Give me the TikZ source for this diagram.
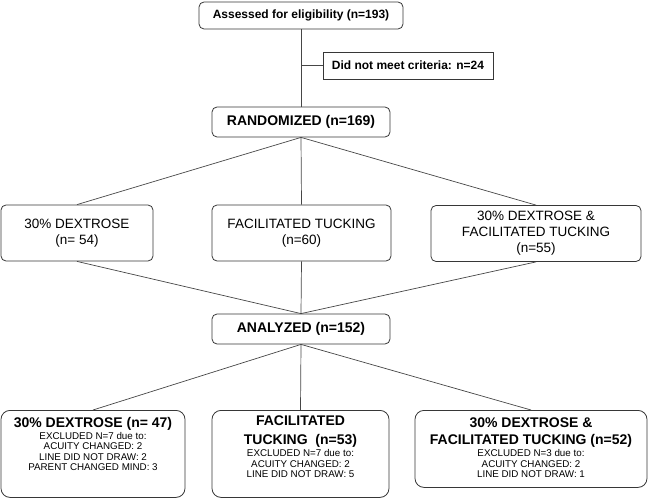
\documentclass[tikz,border=0pt]{standalone}
\usepackage{fontspec}
\setmainfont{Liberation Sans}
\usepackage{xcolor}
\usetikzlibrary{positioning}
\definecolor{boxline}{RGB}{55,55,55}
\definecolor{flowline}{RGB}{70,70,70}
\newcommand{\ttlfont}{\fontsize{14}{17}\selectfont\bfseries}
\newcommand{\detfont}{\fontsize{9.8}{10.4}\selectfont\mdseries}
\newcommand{\detlines}[1]{{\detfont\begin{tabular}[t]{@{}c@{}}#1\end{tabular}}}

\begin{document}
\begin{tikzpicture}[x=1pt, y=-1pt,
    box/.style={draw=boxline, line width=0.8pt, rounded corners=5pt, align=center, inner sep=0pt},
    exclbox/.style={box, rounded corners=0pt, font=\fontsize{12}{14}\selectfont\bfseries},
    armbox/.style={box, minimum height=56pt, font=\fontsize{13.5}{16}\selectfont},
    resbox/.style={box, rounded corners=9pt},
    restext/.style={align=center, inner sep=0pt, font=\ttlfont},
    flow/.style={draw=flowline, line width=0.7pt}]
    \useasboundingbox (0,0) rectangle (648,500);

    % Screening
    \node[box, minimum width=204pt, minimum height=27pt, font=\fontsize{12}{14}\selectfont\bfseries] (assess) at (301,15.5) {Assessed for eligibility (n=193)};
    \node[exclbox, minimum width=170pt, minimum height=27pt] (excl) at (408,65.5) {Did not meet criteria: n=24};
    \node[box, minimum width=178pt, minimum height=30pt, font=\fontsize{14}{16}\selectfont\bfseries] (rand) at (301,122) {RANDOMIZED (n=169)};

    % Allocation arms
    \node[armbox, minimum width=152pt] (arm1) at (77,233) {30\% DEXTROSE\\(n= 54)};
    \node[armbox, minimum width=179pt] (arm2) at (301.5,233) {FACILITATED TUCKING\\(n=60)};
    \node[armbox, minimum width=210pt] (arm3) at (536,233.5) {30\% DEXTROSE \&\\FACILITATED TUCKING\\(n=55)};

    \node[box, minimum width=178pt, minimum height=30pt, font=\fontsize{14}{16}\selectfont\bfseries] (anal) at (301,329) {ANALYZED (n=152)};

    % Analysed groups: boxes, then their text at the top
    \node[resbox, minimum width=184pt, minimum height=87pt, anchor=north] (res1) at (93,410) {};
    \node[resbox, minimum width=177pt, minimum height=87pt, anchor=north] (res2) at (300.5,410) {};
    \node[resbox, minimum width=232pt, minimum height=77pt, anchor=north] (res3) at (531,410) {};
    \node[restext, anchor=north] (res1txt) at ([yshift=-7pt]res1.north) {30\% DEXTROSE (n= 47)\\[-5pt]
      \detlines{EXCLUDED N=7 due to:\\ACUITY CHANGED: 2\\LINE DID NOT DRAW: 2\\PARENT CHANGED MIND: 3}};
    \node[restext, anchor=north] (res2txt) at ([yshift=-6pt]res2.north) {FACILITATED\\[2pt]TUCKING\ \ (n=53)\\[-5pt]
      \detlines{EXCLUDED N=7 due to:\\ACUITY CHANGED: 2\\LINE DID NOT DRAW: 5}};
    \node[restext, anchor=north] (res3txt) at ([yshift=-8pt]res3.north) {30\% DEXTROSE \&\\FACILITATED TUCKING (n=52)\\[-5pt]
      \detlines{EXCLUDED N=3 due to:\\ACUITY CHANGED: 2\\LINE DID NOT DRAW: 1}};

    % Connectors
    \coordinate (brk) at (assess.south |- excl.west);
    \draw[flow] (assess.south) -- (rand.north);
    \draw[flow] (brk) -- (excl.west);
    \foreach \k in {1,2,3} {
      \draw[flow] (rand.south) -- (arm\k.north);
      \draw[flow] (arm\k.south) -- (anal.north);
      \draw[flow] (anal.south) -- (res\k.north);
    }
\end{tikzpicture}
\end{document}
